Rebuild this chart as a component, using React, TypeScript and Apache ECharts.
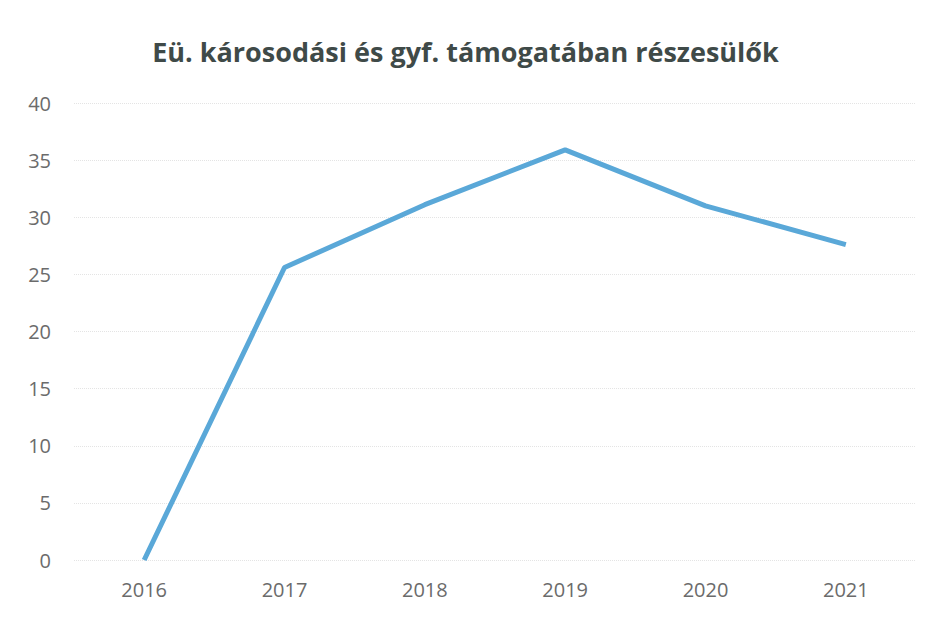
import React, { useEffect, useRef } from "react";
import * as echarts from "echarts";

const titleText = "Eü. károsodási és gyf. támogatában részesülők";
const years = ["2016", "2017", "2018", "2019", "2020", "2021"];
const values = [0, 25.6, 31.1, 35.9, 31.0, 27.6];

export default function App() {
  const ref = useRef<HTMLDivElement>(null);
  useEffect(() => {
    if (!ref.current) return;
    const chart = echarts.init(ref.current, null, { renderer: "svg" });
    chart.setOption({
      animation: false,
      backgroundColor: "#ffffff",
      title: {
        text: titleText,
        left: "center",
        top: 33,
        textStyle: {
          fontFamily: "Open Sans",
          fontWeight: "bold",
          fontSize: 27,
          color: "#3f4a48",
        },
      },
      grid: { left: 74, right: 15, top: 103, bottom: 57 },
      xAxis: {
        type: "category",
        data: years,
        boundaryGap: true,
        axisLine: { show: false },
        axisTick: { show: false },
        axisLabel: {
          color: "#6b6b6b",
          fontFamily: "Open Sans",
          fontSize: 20,
          margin: 19,
        },
      },
      yAxis: {
        type: "value",
        min: 0,
        max: 40,
        interval: 5,
        axisLine: { show: false },
        axisTick: { show: false },
        axisLabel: {
          color: "#6b6b6b",
          fontFamily: "Open Sans",
          fontSize: 20,
          margin: 23,
        },
        splitLine: { lineStyle: { color: "#e4e4e4", width: 1, type: "dotted" } },
      },
      series: [
        {
          type: "line",
          data: values,
          symbol: "none",
          lineStyle: { color: "#5aa8d8", width: 5 },
        },
      ],
    });
    return () => chart.dispose();
  }, []);
  return <div ref={ref} style={{ width: 931, height: 617, position: "fixed", left: 0, top: 0 }} />;
}
